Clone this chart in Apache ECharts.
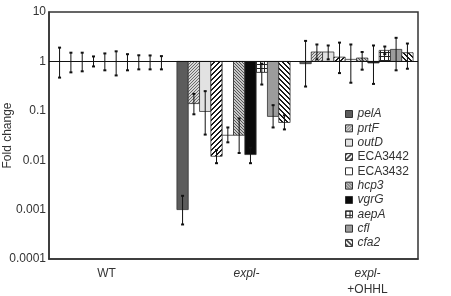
<!DOCTYPE html>
<html>
<head>
<meta charset="utf-8">
<script src="https://cdn.jsdelivr.net/npm/echarts@6/dist/echarts.min.js"></script>
<style>
  html, body { margin: 0; padding: 0; background: #fff; }
  #chart { width: 451px; height: 296px; }
</style>
</head>
<body>
<div id="chart"></div>
<script>
// groups on the x axis and genes (one bar each per group)
var groups = ['WT', 'expl-', 'expl-+OHHL'];
var genes = ['pelA', 'prtF', 'outD', 'ECA3442', 'ECA3432', 'hcp3', 'vgrG', 'aepA', 'cfl', 'cfa2'];
var yTicks = ['0.0001', '0.001', '0.01', '0.1', '1', '10'];

// fold change + error bar ends
var wtMean = [1, 1, 1, 1, 1, 1, 1, 1, 1, 1];
var wtLow  = [0.47, 0.6, 0.63, 0.79, 0.66, 0.52, 0.66, 0.69, 0.69, 0.69];
var wtHigh = [1.9, 1.5, 1.5, 1.26, 1.45, 1.6, 1.4, 1.33, 1.32, 1.28];

var explMean = [0.001, 0.14, 0.097, 0.012, 0.032, 0.032, 0.013, 0.6, 0.077, 0.058];
var explLow  = [0.0005, 0.085, 0.033, 0.0087, 0.023, 0.014, 0.0087, 0.34, 0.046, 0.042];
var explHigh = [0.0019, 0.22, 0.25, 0.016, 0.046, 0.07, 0.018, 0.9, 0.13, 0.081];

var ohhlMean = [0.9, 1.55, 1.55, 1.22, 1.1, 1.17, 0.93, 1.67, 1.75, 1.5];
var ohhlLow  = [0.31, 1.1, 1.1, 0.58, 0.37, 0.68, 0.35, 1.4, 0.66, 0.71];
var ohhlHigh = [2.6, 2.2, 2.1, 2.4, 2.2, 1.55, 2.1, 2.0, 3.0, 2.3];

var italicGenes = ['pelA', 'prtF', 'outD', 'hcp3', 'vgrG', 'aepA', 'cfl', 'cfa2'];

// small canvas tiles used as bar fills
function tile(size, bg, fg, test) {
    var c = document.createElement('canvas');
    c.width = size; c.height = size;
    var ctx = c.getContext('2d');
    ctx.fillStyle = bg;
    ctx.fillRect(0, 0, size, size);
    ctx.fillStyle = fg;
    for (var x = 0; x < size; x++) {
        for (var y = 0; y < size; y++) {
            if (test(x, y)) ctx.fillRect(x, y, 1, 1);
        }
    }
    return { image: c, repeat: 'repeat' };
}

var fills = [
    '#5c5c5c',                                                                   // pelA
    tile(3, '#d8d8d8', '#6a6a6a', function (x, y) { return (x + y) % 3 == 0; }), // prtF
    '#e2e2e2',                                                                   // outD
    tile(5, '#ffffff', '#1a1a1a', function (x, y) { return (x + y) % 5 < 2; }),  // ECA3442
    '#ffffff',                                                                   // ECA3432
    tile(3, '#c8c8c8', '#555555', function (x, y) { return (x - y + 3) % 3 == 0; }), // hcp3
    '#0a0a0a',                                                                   // vgrG
    tile(4, '#ffffff', '#222222', function (x, y) { return y == 0 || x == 0; }), // aepA
    '#9c9c9c',                                                                   // cfl
    tile(5, '#ffffff', '#1a1a1a', function (x, y) { return (x - y + 10) % 5 < 2; }) // cfa2
];

function makeRender(idx) {
    return function (params, api) {
        var cat = api.value(0), v = api.value(1), lo = api.value(2), hi = api.value(3);
        var band = api.coord([1, 1])[0] - api.coord([0, 1])[0];
        var groupW = band * 0.92;
        var bw = groupW / genes.length;
        var base = api.coord([cat, 1]);
        var top = api.coord([cat, v]);
        var x = base[0] - groupW / 2 + idx * bw;
        var cx = x + bw / 2;
        var yLo = api.coord([cat, lo])[1];
        var yHi = api.coord([cat, hi])[1];
        var children = [];
        if (Math.abs(top[1] - base[1]) > 0.5) {
            children.push({
                type: 'rect',
                shape: { x: x, y: Math.min(base[1], top[1]), width: bw, height: Math.abs(top[1] - base[1]) },
                style: { fill: fills[idx], stroke: '#333', lineWidth: 0.8 }
            });
        }
        children.push({ type: 'line', shape: { x1: cx, y1: yLo, x2: cx, y2: yHi }, style: { stroke: '#111', lineWidth: 1 } });
        children.push({ type: 'line', shape: { x1: cx - 1.5, y1: yLo, x2: cx + 1.5, y2: yLo }, style: { stroke: '#111', lineWidth: 2 } });
        children.push({ type: 'line', shape: { x1: cx - 1.5, y1: yHi, x2: cx + 1.5, y2: yHi }, style: { stroke: '#111', lineWidth: 2 } });
        return { type: 'group', children: children };
    };
}

var series = [];
for (var i = 0; i < genes.length; i++) {
    var s = {
        name: genes[i],
        type: 'custom',
        renderItem: makeRender(i),
        encode: { x: 0, y: 1 },
        itemStyle: { color: fills[i], borderColor: '#333', borderWidth: 1 },
        data: [
            [0, wtMean[i], wtLow[i], wtHigh[i]],
            [1, explMean[i], explLow[i], explHigh[i]],
            [2, ohhlMean[i], ohhlLow[i], ohhlHigh[i]]
        ],
        z: 2
    };
    if (i == 0) {
        // the reference line at fold change = 1
        s.markLine = {
            silent: true,
            symbol: 'none',
            label: { show: false },
            lineStyle: { color: '#111', width: 1, type: 'solid' },
            data: [{ yAxis: 1 }],
            z: 5
        };
    }
    series.push(s);
}

var legendData = [];
for (var i = 0; i < genes.length; i++) {
    legendData.push({
        name: genes[i],
        icon: 'rect',
        itemStyle: { color: fills[i], borderColor: '#333', borderWidth: 1 }
    });
}

var myChart = echarts.init(document.getElementById('chart'));

var option = {
    animation: false,
    backgroundColor: '#fff',
    textStyle: { fontFamily: 'Liberation Sans, Arial, sans-serif' },
    grid: {
        left: 49, right: 33, top: 12, bottom: 37,
        outerBoundsMode: 'none',
        containLabel: false,
        show: true, borderColor: '#333', borderWidth: 1.5
    },
    legend: {
        orient: 'vertical',
        left: 340,
        top: 103,
        itemWidth: 7,
        itemHeight: 7,
        itemGap: 2.33,
        data: legendData,
        formatter: function (name) {
            return italicGenes.indexOf(name) >= 0 ? '{i|' + name + '}' : '{n|' + name + '}';
        },
        textStyle: {
            fontSize: 12,
            color: '#333',
            rich: {
                i: { fontStyle: 'italic', fontSize: 12, color: '#333', lineHeight: 12 },
                n: { fontSize: 12, color: '#333', lineHeight: 12 }
            }
        }
    },
    xAxis: {
        type: 'category',
        data: groups,
        axisTick: { show: false },
        axisLine: { show: true, lineStyle: { color: '#333', width: 1.5 } },
        axisLabel: {
            margin: 7,
            color: '#333',
            fontSize: 12,
            formatter: function (value) {
                if (value == 'WT') return '{w|WT}';
                if (value == 'expl-') return '{e|expl-}';
                return '{o|expl-}\n{p|+OHHL}';
            },
            rich: {
                w: { fontSize: 12, color: '#333', padding: [0, 8, 0, 0], lineHeight: 16 },
                e: { fontSize: 12, color: '#333', fontStyle: 'italic', padding: [0, 0, 0, 26], lineHeight: 16 },
                o: { fontSize: 12, color: '#333', fontStyle: 'italic', padding: [0, 0, 0, 22], lineHeight: 16 },
                p: { fontSize: 12, color: '#333', padding: [0, 0, 0, 22], lineHeight: 16 }
            }
        }
    },
    yAxis: {
        type: 'log',
        logBase: 10,
        min: 0.0001,
        max: 10,
        name: 'Fold change',
        nameLocation: 'middle',
        nameGap: 35,
        nameMoveOverlap: false,
        nameTextStyle: { fontSize: 12, color: '#333' },
        axisTick: { show: false },
        splitLine: { show: false },
        axisLine: { show: true, lineStyle: { color: '#333', width: 1.5 } },
        axisLabel: {
            color: '#333',
            fontSize: 12,
            margin: 3,
            formatter: function (v) {
                return yTicks[Math.round(Math.log10(v)) + 4];
            }
        }
    },
    series: series
};

myChart.setOption(option);
</script>
</body>
</html>
